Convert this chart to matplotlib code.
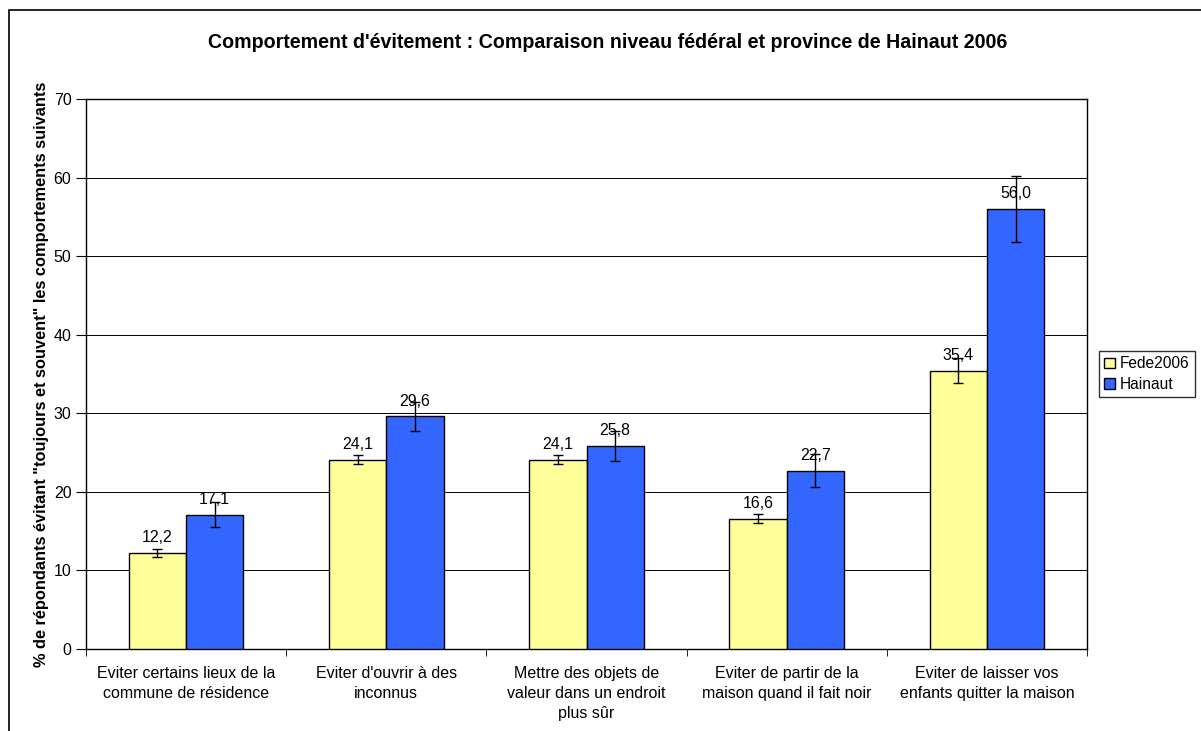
import matplotlib.pyplot as plt
import matplotlib.patches as mpatches
import numpy as np

plt.rcParams['font.family'] = ['Liberation Sans', 'DejaVu Sans']

categories = ["Eviter certains lieux de la\ncommune de résidence",
              "Eviter d'ouvrir à des\ninconnus",
              "Mettre des objets de\nvaleur dans un endroit\nplus sûr",
              "Eviter de partir de la\nmaison quand il fait noir",
              "Eviter de laisser vos\nenfants quitter la maison"]
fede = [12.2, 24.1, 24.1, 16.6, 35.4]
fede_err = [0.5, 0.6, 0.6, 0.6, 1.6]
hainaut = [17.1, 29.6, 25.8, 22.7, 56.0]
hainaut_err = [1.6, 1.8, 1.9, 2.1, 4.2]

fig = plt.figure(figsize=(12.01, 7.31), dpi=100)
ax = fig.add_axes([0.0716, 0.1122, 0.8335, 0.7524])

x = np.arange(len(categories))
w = 0.286
ek = dict(ecolor='black', elinewidth=1, capsize=3.6, capthick=1)
b1 = ax.bar(x - w/2, fede, w, color='#FFFF99', edgecolor='black', linewidth=1,
            yerr=fede_err, error_kw=ek, label='Fede2006', zorder=3)
b2 = ax.bar(x + w/2, hainaut, w, color='#3366FF', edgecolor='black', linewidth=1,
            yerr=hainaut_err, error_kw=ek, label='Hainaut', zorder=3)

# value labels above each bar, comma decimals
for bars, vals in [(b1, fede), (b2, hainaut)]:
    for b, v in zip(bars, vals):
        ax.text(b.get_x() + b.get_width()/2, v + 1.0, f"{v:.1f}".replace('.', ','),
                ha='center', va='bottom', fontsize=11.5, zorder=5)

ax.set_xlim(-0.5, len(categories) - 0.5)
ax.set_ylim(0, 70)
ax.set_yticks(range(0, 71, 10))
ax.yaxis.grid(True, color='black', linewidth=0.7)
ax.set_axisbelow(True)
ax.set_xticks(x)
ax.set_xticklabels(categories, fontsize=11.5, linespacing=1.42)
ax.tick_params(axis='x', length=0, pad=12)
ax.set_xticks(np.arange(-0.5, len(categories)), minor=True)
ax.tick_params(axis='x', which='minor', length=5, direction='out')
ax.tick_params(axis='y', labelsize=11.5, length=7, direction='out')
for s in ax.spines.values():
    s.set_linewidth(1)

ax.set_ylabel('% de répondants évitant "toujours et souvent" les comportements suivants',
              fontsize=11.8, fontweight='bold', labelpad=3)
fig.text(608/1201, 1 - 42/731,
         "Comportement d'évitement : Comparaison niveau fédéral et province de Hainaut 2006",
         ha='center', va='center', fontsize=14.1, fontweight='bold')

leg = fig.legend(handles=[b1, b2], loc='upper left', bbox_to_anchor=(1099/1201, 1 - 351/731),
                 frameon=True, fancybox=False, edgecolor='black', fontsize=11.2,
                 handlelength=0.7, handleheight=0.7, handletextpad=0.3,
                 borderpad=0.35, labelspacing=0.35, borderaxespad=0)
leg.get_frame().set_linewidth(1)

# outer chart frame (left and top edges visible)
fig.patches.append(mpatches.Rectangle((9/1201, -0.1), 1.2, 1 - 10/731 + 0.1,
                   transform=fig.transFigure, fill=False, edgecolor='black', linewidth=1.2))

plt.savefig('out.png', dpi=100)
